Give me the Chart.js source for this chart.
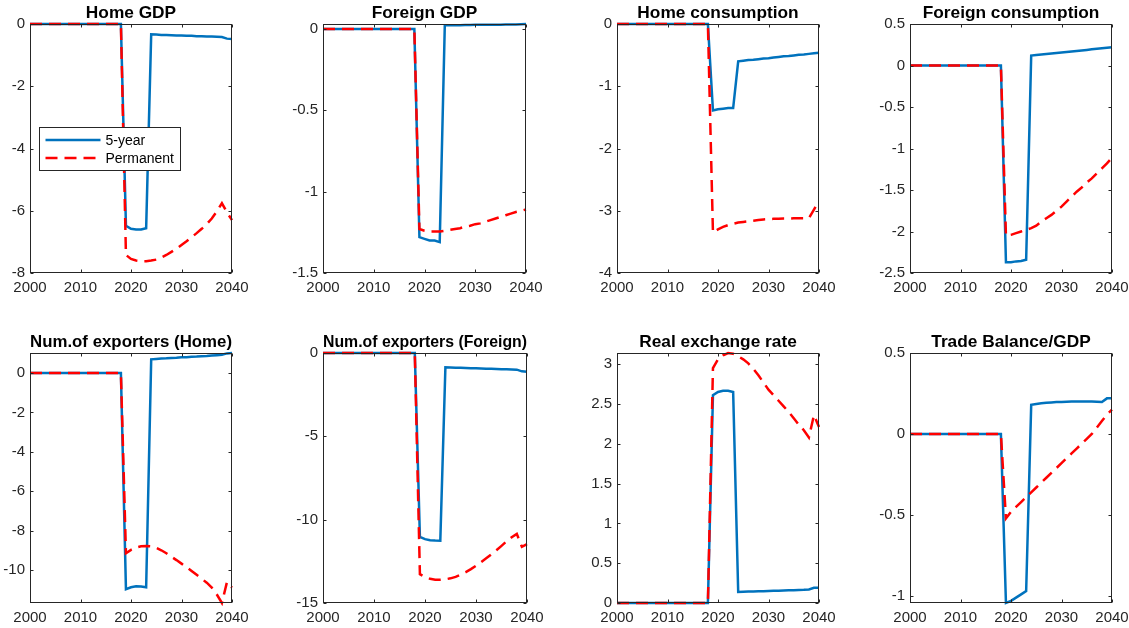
<!DOCTYPE html>
<html>
<head>
<meta charset="utf-8">
<script src="https://cdn.jsdelivr.net/npm/chart.js@4.4.1/dist/chart.umd.min.js"></script>
<style>
  html, body { margin: 0; padding: 0; background: #fff; overflow: hidden; }
  #fig { position: relative; width: 1129px; height: 628px; overflow: hidden; background: #fff; }
  #fig canvas { position: absolute; }
</style>
</head>
<body>
<div id="fig"></div>
<script>
// Simulation horizon (annual)
const years = [2000,2001,2002,2003,2004,2005,2006,2007,2008,2009,2010,2011,2012,2013,2014,2015,2016,2017,2018,
  2019,2020,2021,2022,2023,2024,2025,2026,2027,2028,2029,2030,2031,2032,2033,2034,2035,2036,2037,2038,2039,2040];

// Responses: "5-year" shock vs "Permanent" shock
const homeGdp5y = [0,0,0,0,0,0,0,0,0,0,0,0,0,0,0,0,0,0,0,
  -6.48,-6.58,-6.60,-6.60,-6.56,-0.33,-0.34,-0.35,-0.35,-0.36,-0.37,-0.37,-0.38,-0.38,-0.39,-0.39,-0.40,-0.40,-0.41,-0.42,-0.47,-0.48];
const homeGdpPerm = [0,0,0,0,0,0,0,0,0,0,0,0,0,0,0,0,0,0,0,
  -7.42,-7.55,-7.60,-7.62,-7.62,-7.60,-7.57,-7.50,-7.42,-7.32,-7.22,-7.10,-6.98,-6.85,-6.72,-6.58,-6.43,-6.25,-6.02,-5.76,-6.05,-6.30];

const foreignGdp5y = [0,0,0,0,0,0,0,0,0,0,0,0,0,0,0,0,0,0,0,
  -1.28,-1.29,-1.30,-1.30,-1.31,0.022,0.022,0.023,0.023,0.024,0.024,0.025,0.025,0.025,0.026,0.026,0.026,0.027,0.027,0.027,0.029,0.030];
const foreignGdpPerm = [0,0,0,0,0,0,0,0,0,0,0,0,0,0,0,0,0,0,0,
  -1.23,-1.24,-1.245,-1.245,-1.245,-1.24,-1.235,-1.23,-1.225,-1.215,-1.21,-1.20,-1.195,-1.185,-1.175,-1.165,-1.155,-1.145,-1.135,-1.125,-1.118,-1.11];

const homeCons5y = [0,0,0,0,0,0,0,0,0,0,0,0,0,0,0,0,0,0,0,
  -1.39,-1.37,-1.36,-1.35,-1.35,-0.60,-0.59,-0.58,-0.575,-0.565,-0.555,-0.55,-0.54,-0.53,-0.52,-0.515,-0.505,-0.495,-0.49,-0.48,-0.47,-0.46];
const homeConsPerm = [0,0,0,0,0,0,0,0,0,0,0,0,0,0,0,0,0,0,0,
  -3.35,-3.30,-3.26,-3.23,-3.21,-3.19,-3.18,-3.17,-3.16,-3.15,-3.14,-3.135,-3.13,-3.13,-3.125,-3.125,-3.12,-3.12,-3.12,-3.12,-2.98,-2.84];

const foreignCons5y = [0,0,0,0,0,0,0,0,0,0,0,0,0,0,0,0,0,0,0,
  -2.37,-2.37,-2.36,-2.355,-2.34,0.12,0.126,0.132,0.138,0.145,0.151,0.157,0.163,0.17,0.176,0.182,0.188,0.195,0.201,0.207,0.214,0.22];
const foreignConsPerm = [0,0,0,0,0,0,0,0,0,0,0,0,0,0,0,0,0,0,0,
  -2.05,-2.04,-2.02,-2.00,-1.98,-1.96,-1.93,-1.88,-1.84,-1.80,-1.75,-1.70,-1.64,-1.58,-1.52,-1.47,-1.41,-1.36,-1.30,-1.24,-1.18,-1.11];

const homeExp5y = [0,0,0,0,0,0,0,0,0,0,0,0,0,0,0,0,0,0,0,
  -10.98,-10.88,-10.83,-10.84,-10.88,0.70,0.72,0.74,0.75,0.77,0.78,0.80,0.81,0.83,0.84,0.86,0.87,0.89,0.91,0.93,1.00,1.02];
const homeExpPerm = [0,0,0,0,0,0,0,0,0,0,0,0,0,0,0,0,0,0,0,
  -9.15,-8.98,-8.86,-8.80,-8.78,-8.80,-8.88,-9.00,-9.15,-9.33,-9.50,-9.68,-9.86,-10.05,-10.25,-10.45,-10.65,-10.90,-11.25,-11.68,-10.62,-10.90];

const foreignExp5y = [0,0,0,0,0,0,0,0,0,0,0,0,0,0,0,0,0,0,0,
  -11.03,-11.17,-11.23,-11.25,-11.26,-0.86,-0.87,-0.88,-0.89,-0.90,-0.91,-0.92,-0.93,-0.94,-0.95,-0.96,-0.97,-0.98,-0.99,-1.00,-1.10,-1.13];
const foreignExpPerm = [0,0,0,0,0,0,0,0,0,0,0,0,0,0,0,0,0,0,0,
  -13.27,-13.45,-13.55,-13.60,-13.60,-13.58,-13.52,-13.43,-13.30,-13.15,-12.97,-12.77,-12.55,-12.32,-12.08,-11.83,-11.57,-11.30,-11.05,-10.85,-11.63,-11.47];

const rer5y = [0,0,0,0,0,0,0,0,0,0,0,0,0,0,0,0,0,0,0,
  2.61,2.65,2.665,2.665,2.65,0.138,0.141,0.143,0.145,0.147,0.149,0.151,0.153,0.155,0.157,0.159,0.161,0.163,0.165,0.17,0.19,0.19];
const rerPerm = [0,0,0,0,0,0,0,0,0,0,0,0,0,0,0,0,0,0,0,
  2.95,3.06,3.11,3.14,3.13,3.10,3.06,3.01,2.94,2.86,2.77,2.68,2.61,2.54,2.47,2.40,2.32,2.24,2.17,2.08,2.36,2.21];

const tb5y = [0,0,0,0,0,0,0,0,0,0,0,0,0,0,0,0,0,0,0,
  -1.043,-1.03,-1.01,-0.99,-0.97,0.18,0.185,0.19,0.193,0.195,0.197,0.198,0.199,0.2,0.2,0.2,0.2,0.2,0.199,0.198,0.22,0.22];
const tbPerm = [0,0,0,0,0,0,0,0,0,0,0,0,0,0,0,0,0,0,0,
  -0.52,-0.48,-0.45,-0.42,-0.39,-0.36,-0.33,-0.30,-0.27,-0.24,-0.21,-0.18,-0.15,-0.12,-0.09,-0.06,-0.03,0.0,0.04,0.08,0.12,0.15];

const titles = ['Home GDP', 'Foreign GDP', 'Home consumption', 'Foreign consumption',
  'Num.of exporters (Home)', 'Num.of exporters (Foreign)', 'Real exchange rate', 'Trade Balance/GDP'];
const seriesNames = ['5-year', 'Permanent'];
const xTicks = [2000, 2010, 2020, 2030, 2040];

// Axis limits per panel: [min, max, step]
const yLimits = [
  [-8, 0, 2], [-1.5, 0.03, 0.5], [-4, 0, 1], [-2.5, 0.5, 0.5],
  [-11.68, 1.02, 2], [-15, 0, 5], [0, 3.14, 0.5], [-1.043, 0.5, 0.5]
];

const panelSeries = [
  [homeGdp5y, homeGdpPerm], [foreignGdp5y, foreignGdpPerm], [homeCons5y, homeConsPerm], [foreignCons5y, foreignConsPerm],
  [homeExp5y, homeExpPerm], [foreignExp5y, foreignExpPerm], [rer5y, rerPerm], [tb5y, tbPerm]
];

// Axes boxes in page pixels: [left, top, right, bottom]
const boxes = [
  [30, 24, 232, 273], [323, 24, 526, 273], [617, 24, 819, 273], [910, 24, 1112, 273],
  [30, 353, 232, 603], [323, 353, 527, 603], [617, 353, 819, 603], [910, 353, 1112, 603]
];

const FONT = "'Liberation Sans', Arial, Helvetica, sans-serif";
const AXIS_COLOR = '#262626';
const BLUE = '#0072BD';
const RED = '#FF0000';
const Y_AXIS_W = 40, TITLE_H = 24, X_AXIS_H = 28;

const fmt = v => String(+Number(v).toFixed(3));

// Box outline plus inward tick marks on all four sides
const framePlugin = {
  id: 'frameBox',
  afterDatasetsDraw(chart) {
    const { ctx, chartArea: a, scales } = chart;
    const L = Math.round(a.left) + 0.5, R = Math.round(a.right) - 0.5;
    const T = Math.round(a.top) + 0.5, B = Math.round(a.bottom) - 0.5;
    ctx.save();
    ctx.strokeStyle = AXIS_COLOR;
    ctx.lineWidth = 1;
    ctx.strokeRect(L, T, R - L, B - T);
    const len = 3;
    ctx.beginPath();
    scales.x.ticks.forEach(t => {
      const px = Math.round(scales.x.getPixelForValue(t.value)) + 0.5;
      ctx.moveTo(px, B); ctx.lineTo(px, B - len);
      ctx.moveTo(px, T); ctx.lineTo(px, T + len);
    });
    scales.y.ticks.forEach(t => {
      const py = Math.round(scales.y.getPixelForValue(t.value)) + 0.5;
      ctx.moveTo(L, py); ctx.lineTo(L + len, py);
      ctx.moveTo(R, py); ctx.lineTo(R - len, py);
    });
    ctx.stroke();
    ctx.restore();
  }
};

// Boxed legend placed inside the first panel
const insetLegend = {
  id: 'insetLegend',
  afterDraw(chart) {
    const { ctx, chartArea: a } = chart;
    const x0 = Math.round(a.left) + 9.5, y0 = Math.round(a.top) + 103.5;
    const w = 141, h = 43;
    ctx.save();
    ctx.fillStyle = '#fff';
    ctx.fillRect(x0, y0, w, h);
    ctx.strokeStyle = AXIS_COLOR;
    ctx.lineWidth = 1;
    ctx.strokeRect(x0, y0, w, h);
    chart.data.datasets.forEach((ds, i) => {
      const yy = y0 + 12.5 + i * 18;
      ctx.beginPath();
      ctx.strokeStyle = ds.borderColor;
      ctx.lineWidth = ds.borderWidth;
      ctx.setLineDash(ds.borderDash || []);
      ctx.moveTo(x0 + 6, yy);
      ctx.lineTo(x0 + 61, yy);
      ctx.stroke();
      ctx.setLineDash([]);
      ctx.fillStyle = '#000';
      ctx.font = '14px ' + FONT;
      ctx.textBaseline = 'middle';
      ctx.textAlign = 'left';
      ctx.fillText(ds.label, x0 + 66, yy + 1);
    });
    ctx.restore();
  }
};

const fig = document.getElementById('fig');

boxes.forEach((b, k) => {
  const [L, T, R, B] = b;
  const canvas = document.createElement('canvas');
  const cw = (R - L) + 2 * Y_AXIS_W;
  const ch = (B - T) + TITLE_H + X_AXIS_H;
  canvas.width = cw; canvas.height = ch;
  canvas.style.width = cw + 'px'; canvas.style.height = ch + 'px';
  canvas.style.left = (L - Y_AXIS_W) + 'px';
  canvas.style.top = (T - TITLE_H) + 'px';
  fig.appendChild(canvas);

  const [five, perm] = panelSeries[k];
  const [yMin, yMax, yStep] = yLimits[k];

  const plugins = [framePlugin];
  if (k === 0) plugins.push(insetLegend);

  new Chart(canvas.getContext('2d'), {
    type: 'line',
    data: {
      datasets: [
        {
          label: seriesNames[0],
          data: years.map((yr, i) => ({ x: yr, y: five[i] })),
          borderColor: BLUE, backgroundColor: BLUE, borderWidth: 2.5,
          pointRadius: 0, tension: 0, fill: false, order: 1, clip: 3
        },
        {
          label: seriesNames[1],
          data: years.map((yr, i) => ({ x: yr, y: perm[i] })),
          borderColor: RED, backgroundColor: RED, borderWidth: 2.5, borderDash: [12, 7],
          pointRadius: 0, tension: 0, fill: false, order: 0, clip: 3
        }
      ]
    },
    options: {
      responsive: false,
      animation: false,
      devicePixelRatio: 1,
      layout: { padding: { left: 0, right: Y_AXIS_W, top: 0, bottom: 0 } },
      plugins: {
        legend: { display: false },
        tooltip: { enabled: false },
        title: {
          display: true,
          text: titles[k],
          fullSize: false,
          color: '#000',
          font: { family: FONT, size: 17.3, weight: 'bold', lineHeight: 1.2 },
          padding: { top: 3, bottom: 0.24 }
        }
      },
      scales: {
        x: {
          type: 'linear',
          min: xTicks[0], max: xTicks[xTicks.length - 1],
          grid: { display: false, drawTicks: false },
          border: { display: false },
          afterBuildTicks: s => { s.ticks = xTicks.map(v => ({ value: v })); },
          ticks: {
            autoSkip: false, maxRotation: 0, minRotation: 0, padding: 6,
            color: AXIS_COLOR, font: { family: FONT, size: 15 },
            callback: v => String(v)
          },
          afterFit: s => { s.height = X_AXIS_H; }
        },
        y: {
          type: 'linear',
          min: yMin, max: yMax,
          grid: { display: false, drawTicks: false },
          border: { display: false },
          ticks: {
            stepSize: yStep, includeBounds: false, autoSkip: false, padding: 5,
            color: AXIS_COLOR, font: { family: FONT, size: 15 },
            callback: v => fmt(v)
          },
          afterFit: s => { s.width = Y_AXIS_W; }
        }
      }
    },
    plugins
  });
});
</script>
</body>
</html>
